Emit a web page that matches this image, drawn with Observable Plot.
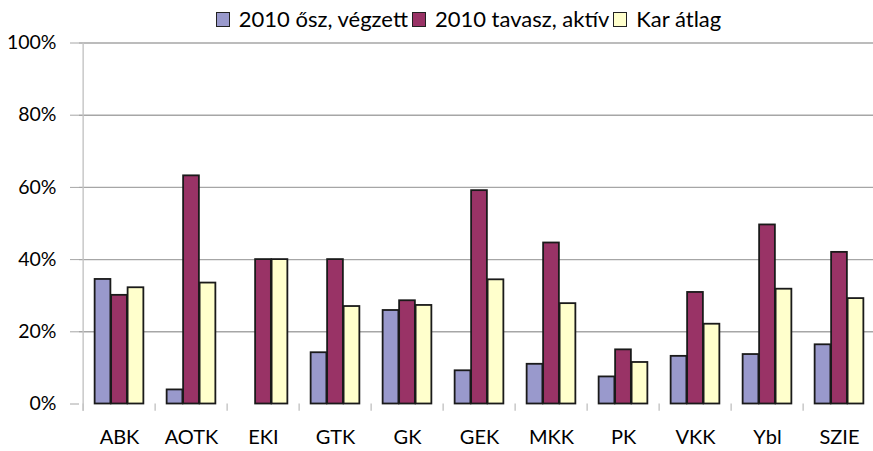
<!DOCTYPE html>
<html>
<head>
<meta charset="utf-8">
<script src="https://cdn.jsdelivr.net/npm/d3@7"></script>
<script src="https://cdn.jsdelivr.net/npm/@observablehq/plot@0.6"></script>
<style>
  html, body { margin: 0; padding: 0; background: #fff; }
  body { width: 873px; height: 451px; overflow: hidden; font-family: Lato, "DejaVu Sans Condensed", sans-serif; }
  #legend { height: 30px; display: flex; justify-content: center; align-items: flex-end; padding-left: 64px; box-sizing: border-box; }
  .item { display: flex; align-items: center; font-size: 22px; line-height: 22px; color: #000; white-space: nowrap; margin: 0 2px; }
  .sw { width: 12px; height: 13px; border: 1.6px solid #222; margin-right: 9px; }
</style>
</head>
<body>
<div id="legend"></div>
<div id="chart"></div>
<script>
const categories = ["ABK","AOTK","EKI","GTK","GK","GEK","MKK","PK","VKK","Ybl","SZIE"];
const seriesNames = ["2010 ősz, végzett","2010 tavasz, aktív","Kar átlag"];
const oszVegzett = [34.5,3.9,0,14.2,25.9,9.2,11,7.5,13.2,13.7,16.4];
const tavaszAktiv = [30.1,63.2,40,40,28.6,59.1,44.6,15,30.9,49.6,42];
const karAtlag = [32.2,33.5,40,27,27.3,34.4,27.8,11.5,22.1,31.8,29.2];
const yTicks = [0,20,40,60,80,100];
const colors = ["#9999cc","#993366","#ffffcc"];

const values = [oszVegzett, tavaszAktiv, karAtlag];
const width = 873, height = 421;
const marginLeft = 79, plotRight = 879;
const bw = (plotRight - marginLeft) / categories.length;
const groupPad = 0.16;
const barW = (1 - 2 * groupPad) / 3;

const legend = document.getElementById("legend");
seriesNames.forEach((name, i) => {
  const it = document.createElement("div");
  it.className = "item";
  const sw = document.createElement("div");
  sw.className = "sw";
  sw.style.background = colors[i];
  const t = document.createElement("span");
  t.textContent = name;
  it.appendChild(sw); it.appendChild(t);
  legend.appendChild(it);
});

const barMarks = values.map((vals, i) => {
  const data = categories.map((c, j) => ({cat: c, v: vals[j]})).filter(d => d.v > 0);
  return Plot.barY(data, {
    x: "cat", y: "v",
    fill: colors[i], stroke: "#1a1a1a", strokeWidth: 1.8,
    insetLeft: bw * (groupPad + i * barW),
    insetRight: bw * (1 - groupPad - (i + 1) * barW)
  });
});

const chart = Plot.plot({
  width, height,
  marginLeft, marginRight: width - plotRight,
  marginTop: 12.5, marginBottom: 47.5,
  style: {fontFamily: 'Lato, "DejaVu Sans Condensed", sans-serif', background: "#fff"},
  x: {domain: categories, padding: 0, axis: null},
  y: {domain: [0, 100], axis: null},
  marks: [
    Plot.gridY(yTicks.filter(d => d > 0), {stroke: "#a6a6a6", strokeWidth: 1.4, strokeOpacity: 1}),
    Plot.ruleX([categories[0]], {x: d => d, dx: -bw / 2, y1: -2, y2: 100, stroke: "#c4c4c4", strokeWidth: 1.4}),
    Plot.ruleX(categories, {x: d => d, dx: -bw / 2, y1: -2, y2: 0, stroke: "#c4c4c4", strokeWidth: 1.4}),
    Plot.axisY(yTicks, {tickFormat: d => d + "%", tickSize: 9, tickPadding: 14, fontSize: 19.5, stroke: "#a6a6a6", fill: "#000", label: null}),
    ...barMarks,
    Plot.axisX({tickSize: 0, tickPadding: 26, fontSize: 20, fill: "#000", label: null})
  ]
});
document.getElementById("chart").appendChild(chart);
</script>
</body>
</html>
